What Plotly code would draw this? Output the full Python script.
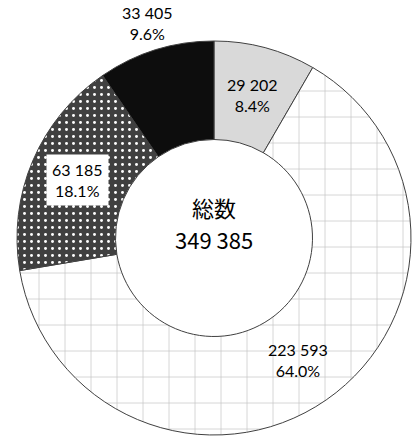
import math
import plotly.graph_objects as go

# slice data, clockwise from 12 o'clock
values = [29202, 223593, 63185, 33405]
colors = ['#d9d9d9', '#ffffff', '#404040', '#0d0d0d']
patterns = ['', '+', '.', '']
pattern_fg = ['#d9d9d9', '#bfbfbf', '#ffffff', '#0d0d0d']
pattern_size = [17, 26, 7, 17]
pattern_solid = [0.1, 0.05, 0.14, 0.1]
label_pos = ['inside', 'inside', 'inside', 'outside']
label_box = [False, False, True, False]
center_title = '総数'

W, H = 416, 438
cx, cy, R = 214, 238, 197   # pixel centre / outer radius of the ring
hole = 0.5

total = sum(values)

def fmt(v):
    return f'{v:,}'.replace(',', ' ')

fig = go.Figure(go.Pie(
    values=values,
    sort=False,
    direction='clockwise',
    rotation=0,
    hole=hole,
    textinfo='none',
    hoverinfo='value+percent',
    marker=dict(
        colors=colors,
        line=dict(color='#404040', width=1),
        pattern=dict(shape=patterns, fgcolor=pattern_fg, bgcolor=colors,
                     size=pattern_size, solidity=pattern_solid),
    ),
    domain=dict(x=[(cx - R) / W, (cx + R) / W], y=[(H - cy - R) / H, (H - cy + R) / H]),
))

# slice labels placed at the middle angle of each slice
cum = 0
for v, pos, box in zip(values, label_pos, label_box):
    mid = (cum + v / 2) / total * 2 * math.pi
    cum += v
    r = 148 if pos == 'inside' else 225
    px_ = cx + r * math.sin(mid)
    py_ = cy - r * math.cos(mid)
    fig.add_annotation(
        x=px_ / W, y=1 - py_ / H, xref='paper', yref='paper',
        xanchor='center', yanchor='middle',
        text=f'{fmt(v)}<br>{v / total * 100:.1f}%',
        showarrow=False,
        font=dict(family='Lato, Open Sans, sans-serif', size=16, color='#000000'),
        bgcolor='#ffffff' if box else 'rgba(0,0,0,0)',
        borderpad=5 if box else 0,
        align='center',
    )

# centre text: title and total
for txt, dy in [(center_title, -31), (fmt(total), 1)]:
    fig.add_annotation(
        x=cx / W, y=1 - (cy + dy) / H, xref='paper', yref='paper',
        xanchor='center', yanchor='middle',
        text=txt, showarrow=False,
        font=dict(family='Noto Sans CJK JP, sans-serif', size=22, color='#000000'),
    )

fig.update_layout(
    width=W, height=H,
    margin=dict(l=0, r=0, t=0, b=0),
    paper_bgcolor='white',
    plot_bgcolor='white',
    showlegend=False,
)

fig.write_html('out.html', config={'displayModeBar': False},
               post_script="document.body.style.margin='0';")
